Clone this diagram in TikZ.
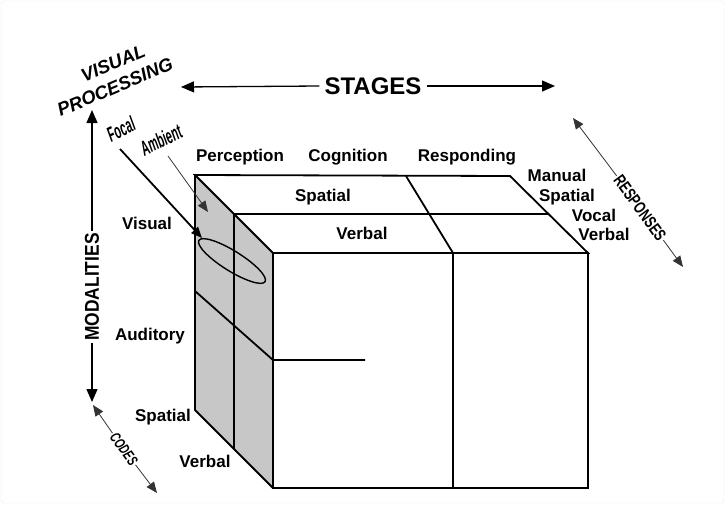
\documentclass[tikz,border=0pt]{standalone}
\usepackage{fontspec}
\setmainfont{Liberation Sans}
\usetikzlibrary{arrows.meta,shapes.geometric}

\begin{document}
\begin{tikzpicture}[x=1pt,y=-1pt,
  lab/.style={font=\fontsize{17}{19}\selectfont\bfseries, inner sep=0pt, text height=12pt, text depth=0pt},
  slant/.style={font=\fontsize{18.5}{21}\selectfont\bfseries\itshape, inner sep=0pt},
  narrow/.style={font=\fontsize{21}{24}\selectfont\bfseries\itshape, inner sep=0pt, rotate=26, xscale=0.52},
  tip/.style={-{Triangle[length=13pt,width=11pt]}},
  smalltip/.style={-{Triangle[length=11pt,width=9pt]}},
  edge/.style={line width=1.8pt},
  fine/.style={line width=0.8pt, black!80}]
\useasboundingbox (0,0) rectangle (725,504);
\draw [black!8, rounded corners=3pt] (1,1) rectangle (724,503);
\coordinate (bTL) at (195,175);
\coordinate (bTR) at (510,176);
\coordinate (fTL) at (273,253);
\coordinate (fTR) at (588,253);
\coordinate (fBL) at (273,488);
\coordinate (fBR) at (588,488);
\coordinate (bBL) at (195,410);
\coordinate (mTL) at (234,214);
\coordinate (mTR) at (549,214);
\coordinate (mBL) at (234,449);
\coordinate (sTop) at (406,176);
\coordinate (sFront) at (453,253);
\coordinate (sBot) at (453,488);
\coordinate (vaL) at (195,291);
\coordinate (vaF) at (273,360);
\coordinate (vaE) at (365,360);
\fill [black!22] (bTL) -- (fTL) -- (fBL) -- (bBL) -- cycle;
\draw [edge] (bTL) -- (bTR) -- (fTR) -- (fTL) -- cycle;
\draw [edge] (fTL) rectangle (fBR);
\draw [edge] (bTL) -- (bBL) -- (fBL);
\draw [edge] (mTL) -- (mTR);
\draw [edge] (mTL) -- (mBL);
\draw [edge] (sTop) -- (sFront) -- (sBot);
\draw [edge] (vaL) -- (vaF) -- (vaE);
\node [draw, ellipse, line width=1.4pt, minimum width=78pt, minimum height=20pt, rotate=-32] (focus) at (232,261) {};
\node [lab] (perc) at (240,155) {Perception};
\node [lab] (cogn) at (348,155) {Cognition};
\node [lab] (resp) at (467,155) {Responding};
\node [lab] (spT) at (323,195) {Spatial};
\node [lab] (vbT) at (362,233) {Verbal};
\node [lab] (man) at (557,175) {Manual};
\node [lab] (spR) at (567,195) {Spatial};
\node [lab] (voc) at (594,215) {Vocal};
\node [lab] (vbR) at (604,234) {Verbal};
\node [lab] (vis) at (147,223) {Visual};
\node [lab] (aud) at (150,334) {Auditory};
\node [lab] (spB) at (163,415) {Spatial};
\node [lab] (vbB) at (205,461) {Verbal};
\node [slant, rotate=23] (vp1) at (113,63) {VISUAL};
\node [slant, rotate=23] (vp2) at (115,87) {PROCESSING};
\node [narrow] (focal) at (121,129) {Focal};
\node [narrow] (amb) at (161,140) {Ambient};
\coordinate (focalT) at (120,149);
\coordinate (focalH) at (202,238);
\coordinate (ambT) at (168,156);
\coordinate (ambH) at (208,212);
\draw [edge, smalltip] (focalT) -- (focalH);
\draw [fine, smalltip] (ambT) -- (ambH);
\node [font=\fontsize{24}{26}\selectfont\bfseries, inner sep=5pt] (stages) at (373,86) {STAGES};
\coordinate (stL) at (181,87);
\coordinate (stR) at (555,86);
\draw [line width=1.3pt, tip] (stages.west) -- (stL);
\draw [line width=1.3pt, tip] (stages.east) -- (stR);
\node [font=\fontsize{20}{22}\selectfont\bfseries, inner sep=3pt, rotate=90, xscale=0.87] (moda) at (92,287) {MODALITIES};
\coordinate (moT) at (92,110);
\coordinate (moB) at (92,402);
\draw [line width=1.3pt, tip] (moda.east) -- (moT);
\draw [line width=1.3pt, tip] (moda.west) -- (moB);
\node [font=\fontsize{15}{17}\selectfont\bfseries\itshape, inner sep=2pt, rotate=-54, xscale=0.68] (codes) at (124,449) {CODES};
\coordinate (coT) at (93,405);
\coordinate (coB) at (157,493);
\draw [fine, smalltip] (codes.west) -- (coT);
\draw [fine, smalltip] (codes.east) -- (coB);
\node [font=\fontsize{17}{19}\selectfont\bfseries, inner sep=2pt, rotate=-54, xscale=0.72] (resps) at (640,208) {RESPONSES};
\coordinate (reT) at (573,118);
\coordinate (reB) at (683,267);
\draw [fine, smalltip] (resps.west) -- (reT);
\draw [fine, smalltip] (resps.east) -- (reB);
\end{tikzpicture}
\end{document}
